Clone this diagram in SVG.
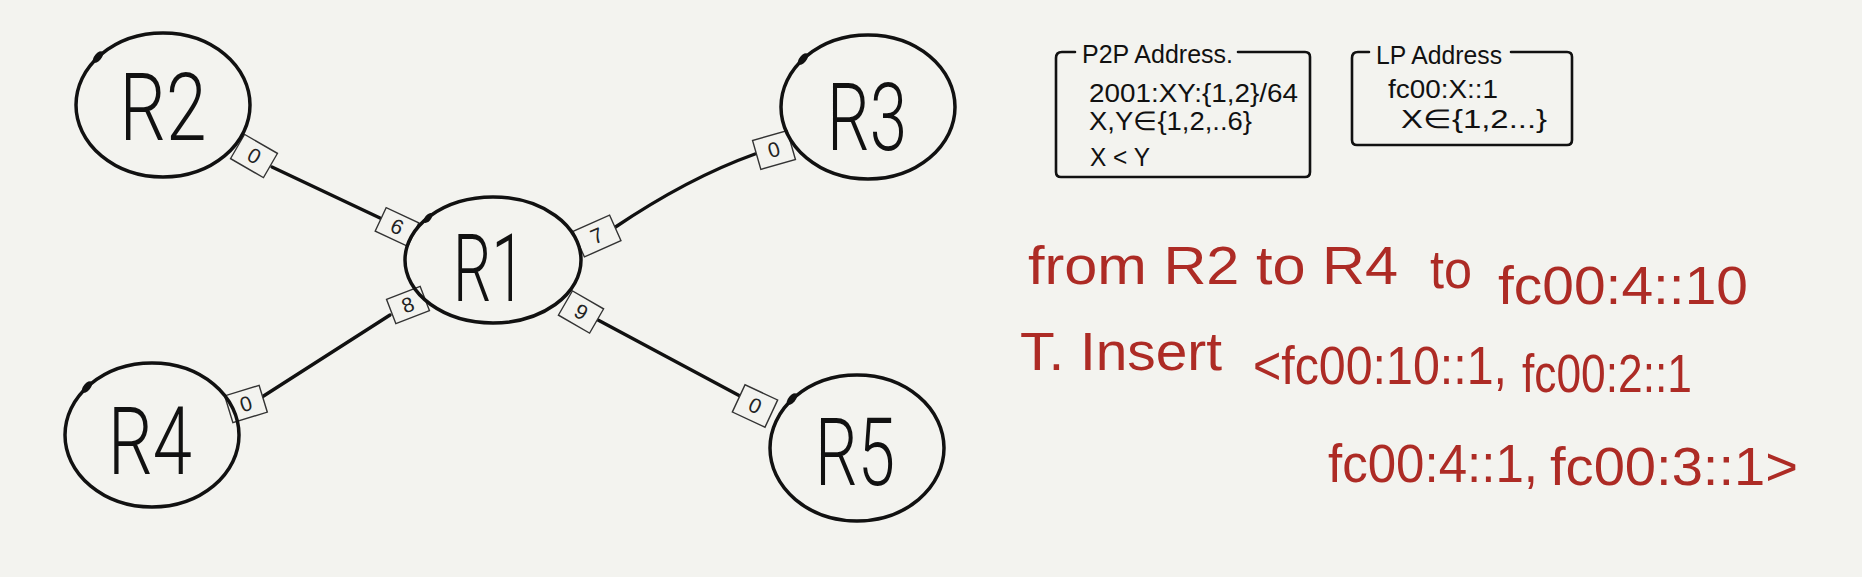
<svg xmlns="http://www.w3.org/2000/svg" width="1862" height="577" viewBox="0 0 1862 577">
<style>
.node{fill:none;stroke:#111;stroke-width:3.5}
.blob{fill:#111}
.lbl{font-family:Roboto,"Liberation Sans",sans-serif;font-weight:300;font-size:94px;fill:#111;text-anchor:middle}
.wire{fill:none;stroke:#111;stroke-width:3.4;stroke-linecap:round}
.port rect{fill:#f3f3ef;stroke:#333;stroke-width:1.4}
.port text{font-family:"Liberation Sans",sans-serif;font-size:21px;fill:#222;text-anchor:middle}
.box{fill:none;stroke:#111;stroke-width:2.6;stroke-linejoin:round;stroke-linecap:round}
.bt{font-family:"Liberation Sans",sans-serif;font-size:26px;fill:#111}
.red{font-family:"Liberation Sans",sans-serif;font-size:54px;fill:#ad2b25}
</style>
<rect width="1862" height="577" fill="#f3f3ef"/>

<g id="connectors">
<path class="wire" d="M272,167 L380,218"/>
<path class="wire" d="M614,228 Q688,178 755,154"/>
<path class="wire" d="M390,315 L262,397"/>
<path class="wire" d="M598,320 L740,396"/>
</g>

<g id="ports">
<g id="port-R2-0" class="port" transform="translate(254,156) rotate(30)"><rect x="-19" y="-14" width="38" height="28"/><text y="7">0</text></g>
<g id="port-R1-6" class="port" transform="translate(397,227) rotate(25)"><rect x="-18" y="-13" width="36" height="26"/><text y="7">6</text></g>
<g id="port-R1-7" class="port" transform="translate(597,236) rotate(-24)"><rect x="-20" y="-14" width="40" height="28"/><text y="7">7</text></g>
<g id="port-R1-8" class="port" transform="translate(408,305) rotate(-21)"><rect x="-18" y="-13" width="36" height="26"/><text y="7">8</text></g>
<g id="port-R1-9" class="port" transform="translate(581,312) rotate(30)"><rect x="-18" y="-14" width="36" height="28"/><text y="7">9</text></g>
<g id="port-R3-0" class="port" transform="translate(774,150) rotate(-16)"><rect x="-18" y="-15" width="36" height="30"/><text y="7">0</text></g>
<g id="port-R4-0" class="port" transform="translate(246,404) rotate(-17)"><rect x="-18" y="-14" width="36" height="28"/><text y="7">0</text></g>
<g id="port-R5-0" class="port" transform="translate(755,406) rotate(25)"><rect x="-18" y="-15" width="36" height="30"/><text y="7">0</text></g>
</g>

<g id="node-R1"><ellipse class="node" cx="493" cy="260" rx="88" ry="63"/><ellipse class="blob" cx="428" cy="218" rx="3" ry="6" transform="rotate(40 428 218)"/><text class="lbl" x="489" y="301" textLength="72" lengthAdjust="spacingAndGlyphs">R1</text></g>
<g id="node-R2"><ellipse class="node" cx="163" cy="105" rx="87" ry="72"/><ellipse class="blob" cx="98" cy="57" rx="3.5" ry="7" transform="rotate(40 98 57)"/><text class="lbl" x="163" y="140" textLength="87" lengthAdjust="spacingAndGlyphs">R2</text></g>
<g id="node-R3"><ellipse class="node" cx="868" cy="107" rx="87" ry="72"/><ellipse class="blob" cx="803" cy="59" rx="3.5" ry="7" transform="rotate(40 803 59)"/><text class="lbl" x="867" y="150" textLength="80" lengthAdjust="spacingAndGlyphs">R3</text></g>
<g id="node-R4"><ellipse class="node" cx="152" cy="435" rx="87" ry="72"/><ellipse class="blob" cx="87" cy="387" rx="3.5" ry="7" transform="rotate(40 87 387)"/><text class="lbl" x="150" y="474" textLength="84" lengthAdjust="spacingAndGlyphs">R4</text></g>
<g id="node-R5"><ellipse class="node" cx="857" cy="448" rx="87" ry="73"/><ellipse class="blob" cx="792" cy="399" rx="3.5" ry="7" transform="rotate(40 792 399)"/><text class="lbl" x="855" y="485" textLength="80" lengthAdjust="spacingAndGlyphs">R5</text></g>

<g id="p2p-address">
<path class="box" d="M1075,52 L1062,52 Q1056,52 1056,58 L1056,172 Q1056,177 1061,177 L1305,177 Q1310,177 1310,172 L1310,57 Q1310,52 1305,52 L1238,52"/>
<text class="bt" x="1082" y="63" textLength="151" lengthAdjust="spacingAndGlyphs">P2P Address.</text>
<text class="bt" x="1089" y="102" textLength="209" lengthAdjust="spacingAndGlyphs">2001:XY:{1,2}/64</text>
<text class="bt" x="1089" y="130" textLength="163" lengthAdjust="spacingAndGlyphs">X,Y∈{1,2,..6}</text>
<text class="bt" x="1090" y="166" textLength="60" lengthAdjust="spacingAndGlyphs">X &lt; Y</text>
</g>

<g id="lp-address">
<path class="box" d="M1369,52 L1358,52 Q1352,52 1352,58 L1352,140 Q1352,145 1357,145 L1567,145 Q1572,145 1572,140 L1572,57 Q1572,52 1567,52 L1511,52"/>
<text class="bt" x="1376" y="64" textLength="126" lengthAdjust="spacingAndGlyphs">LP Address</text>
<text class="bt" x="1388" y="98" textLength="110" lengthAdjust="spacingAndGlyphs">fc00:X::1</text>
<text class="bt" x="1401" y="128" textLength="146" lengthAdjust="spacingAndGlyphs">X∈{1,2...}</text>
</g>

<g id="notes">
<text class="red" x="1028" y="284" textLength="370" lengthAdjust="spacingAndGlyphs">from R2 to R4</text>
<text class="red" x="1430" y="288" textLength="42" lengthAdjust="spacingAndGlyphs">to</text>
<text class="red" x="1498" y="304" textLength="250" lengthAdjust="spacingAndGlyphs">fc00:4::10</text>
<text class="red" x="1020" y="370" textLength="202" lengthAdjust="spacingAndGlyphs">T. Insert</text>
<text class="red" x="1253" y="384" textLength="254" lengthAdjust="spacingAndGlyphs">&lt;fc00:10::1,</text>
<text class="red" x="1522" y="392" textLength="170" lengthAdjust="spacingAndGlyphs">fc00:2::1</text>
<text class="red" x="1328" y="482" textLength="210" lengthAdjust="spacingAndGlyphs">fc00:4::1,</text>
<text class="red" x="1550" y="485" textLength="248" lengthAdjust="spacingAndGlyphs">fc00:3::1&gt;</text>
</g>
</svg>
